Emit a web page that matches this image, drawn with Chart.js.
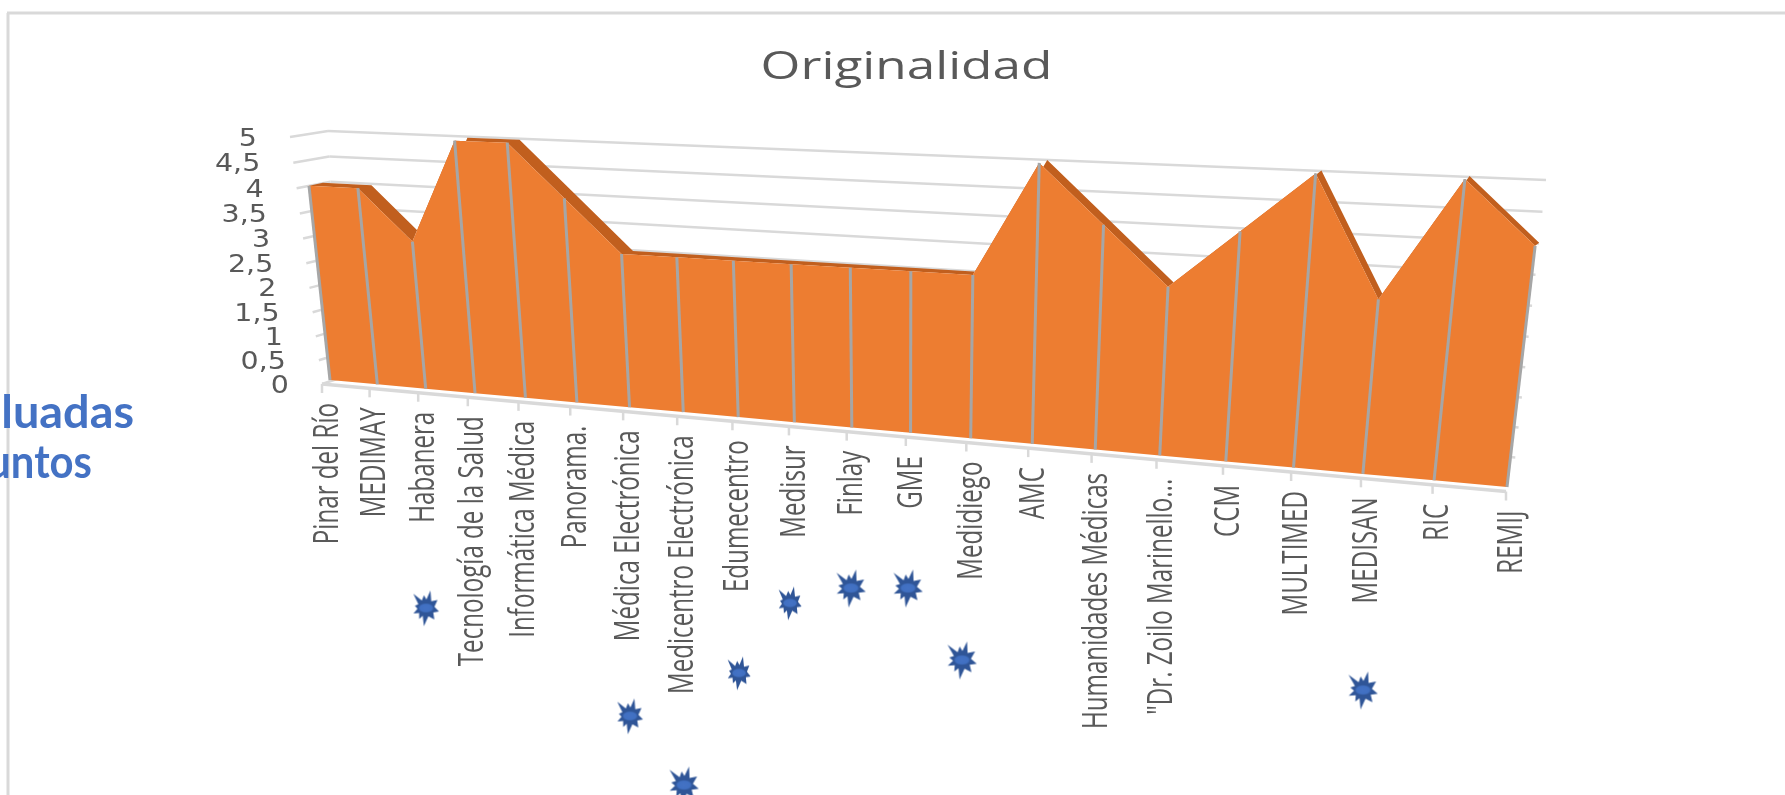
<!DOCTYPE html>
<html lang="es">
<head>
<meta charset="utf-8">
<title>Originalidad</title>
<style>
html,body{margin:0;padding:0;background:#fff;overflow:hidden}
canvas{display:block}
</style>
<script src="https://cdn.jsdelivr.net/npm/chart.js@4"></script>
</head>
<body>
<canvas id="c" width="1785" height="795"></canvas>
<script>
const chartTitle = "Originalidad";
const categories = ["Pinar del Río","MEDIMAY","Habanera","Tecnología de la Salud","Informática Médica","Panorama.","Médica Electrónica","Medicentro Electrónica","Edumecentro","Medisur","Finlay","GME","Medidiego","AMC","Humanidades Médicas","\"Dr. Zoilo Marinello...","CCM","MULTIMED","MEDISAN","RIC","REMIJ"];
const originalidad = [4,4,3,5,5,4,3,3,3,3,3,3,3,5,4,3,4,5,3,5,4];
const baseline = [0,0,0,0,0,0,0,0,0,0,0,0,0,0,0,0,0,0,0,0,0];
const starX = [426,630,684,739,790,851,908,962,1363];
const starY = [608,716,785,673,603,588,588,660,690];
const sideText = ["luadas","untos"];

// perspective planes (value space -> page)
function plane(p0,p1,p2,p3){
  const dx1=p1[0]-p2[0],dy1=p1[1]-p2[1],dx2=p3[0]-p2[0],dy2=p3[1]-p2[1];
  const sx=p0[0]-p1[0]+p2[0]-p3[0],sy=p0[1]-p1[1]+p2[1]-p3[1];
  const den=dx1*dy2-dx2*dy1;
  const g=(sx*dy2-dx2*sy)/den,h=(dx1*sy-sx*dy1)/den;
  const a=p1[0]-p0[0]+g*p1[0],b=p3[0]-p0[0]+h*p3[0];
  const d=p1[1]-p0[1]+g*p1[1],e=p3[1]-p0[1]+h*p3[1];
  return (u,v)=>{const w=g*u+h*v+1;return [(a*u+b*v+p0[0])/w,(d*u+e*v+p0[1])/w];};
}
const front = plane([330,380],[1507,487],[1542.6,182],[303.5,135]);
const back  = plane([344,377],[1511,484],[1546.6,179],[317.5,132]);
const wall  = plane([340,378],[1512,487],[1546,180],[328,131]);
const axisP = plane([322,384],[1506,491.5],[1540,186],[300,139]);

const ORANGE="#ED7D31", DARK="#C15F1E", GRID="#D9D9D9", DROP="#A6A6A6", TEXT="#595959", BLUE="#4472C4";

function uv(chart,x,y){const a=chart.chartArea;return [(x-a.left)/(a.right-a.left),(a.bottom-y)/(a.bottom-a.top)];}

function makeStar(w,h){
  const c=document.createElement('canvas');c.width=w+16;c.height=h+16;
  const g=c.getContext('2d'),cx=c.width/2,cy=c.height/2;
  // burst outline: [degrees clockwise from up, reach]
  const tips=[[-47,1.2],[-11,0.74],[17,1.05],[60,0.92],[103,0.92],[139,0.88],[188,1.06],[217,0.78],[250,0.92],[280,0.78]];
  const k=h/37;
  g.beginPath();
  tips.forEach((t,i)=>{
    const a=(t[0]-90)*Math.PI/180;
    g.lineTo(cx+Math.cos(a)*t[1]*18.5*k*(w/h)*(37/33)*0.89,cy+Math.sin(a)*t[1]*18.5*k);
    const nx=i<tips.length-1?tips[i+1][0]:tips[0][0]+360;
    const m=((t[0]+nx)/2-90)*Math.PI/180;
    g.lineTo(cx+Math.cos(m)*9*k,cy+Math.sin(m)*9*k);
  });
  g.closePath();g.fillStyle="#2F5597";g.fill();
  g.save();g.translate(cx,cy);g.scale(1,0.62);
  const rad=8.5*k;
  const r=g.createRadialGradient(0,0,1,0,0,rad);
  r.addColorStop(0,"#4472C4");r.addColorStop(0.7,"#4070C2");r.addColorStop(1,"rgba(68,114,196,0)");
  g.beginPath();g.arc(0,0,rad,0,Math.PI*2);g.fillStyle=r;g.fill();
  g.restore();
  return c;
}
const starBig=makeStar(33,37), starMid=makeStar(29,35), starSmall=makeStar(26,33);
const starStyles=[starMid,starMid,starBig,starSmall,starSmall,starBig,starBig,starBig,starBig];

function poly(ctx,upper,lower,color){
  ctx.beginPath();
  upper.forEach((p,i)=>i?ctx.lineTo(p.x,p.y):ctx.moveTo(p.x,p.y));
  for(let i=lower.length-1;i>=0;i--)ctx.lineTo(lower[i].x,lower[i].y);
  ctx.closePath();ctx.fillStyle=color;ctx.fill();
}
function seg(ctx,a,b,color,w){ctx.beginPath();ctx.moveTo(a[0],a[1]);ctx.lineTo(b[0],b[1]);ctx.strokeStyle=color;ctx.lineWidth=w;ctx.stroke();}

const perspective={
  id:'perspective',
  afterDatasetsUpdate(chart){
    [[0,front],[1,front],[2,back]].forEach(([i,pl])=>{
      chart.getDatasetMeta(i).data.forEach(el=>{
        const q=uv(chart,el.x,el.y),p=pl(q[0],q[1]);
        el.x=p[0];el.y=p[1];
      });
    });
  },
  beforeDatasetsDraw(chart){
    const ctx=chart.ctx,sx=chart.scales.x,sy=chart.scales.y;
    ctx.save();
    ctx.lineCap='butt';
    // frame
    seg(ctx,[8,795],[8,13],GRID,3);seg(ctx,[7,13],[1785,13],GRID,3);
    // walls + value ticks
    sy.ticks.forEach(t=>{
      const v=t.value/5;
      const a=wall(0,v),b=wall(1,v),f=front(0,v);
      const s=[f[0]-8-5.5*v,f[1]+4-2*v];
      if(t.value>0)seg(ctx,a,b,GRID,2.5);
      seg(ctx,s,a,GRID,2.5);
      const lab=String(t.value).replace('.',',');
      ctx.save();
      ctx.translate(s[0]-33,s[1]+2);ctx.scale(1.14,1);
      ctx.font='25px "DejaVu Sans"';ctx.fillStyle=TEXT;ctx.textAlign='right';ctx.textBaseline='middle';
      ctx.fillText(lab,0,0);
      ctx.restore();
    });
    // category axis
    seg(ctx,axisP(0,0),axisP(1,0),GRID,3.5);
    const labs=sx.getLabels();
    labs.forEach((lab,i)=>{
      const q=uv(chart,sx.getPixelForValue(i),chart.chartArea.bottom);
      const p=axisP(q[0],0);
      seg(ctx,[p[0],p[1]],[p[0],p[1]+9],GRID,2.5);
      ctx.save();
      ctx.translate(p[0]+6,p[1]+19);ctx.rotate(-Math.PI/2);ctx.scale(0.71,1);
      ctx.font='34px "Open Sans"';ctx.fillStyle=TEXT;ctx.textAlign='right';ctx.textBaseline='middle';
      ctx.fillText(lab,0,0);
      ctx.restore();
    });
    // title
    ctx.save();
    ctx.translate(906.5,79);ctx.scale(1.35,1);
    ctx.font='38px "Open Sans"';ctx.fillStyle=TEXT;ctx.textAlign='center';ctx.textBaseline='alphabetic';
    ctx.fillText(chartTitle,0,0);
    ctx.restore();
    // side text
    ctx.save();
    ctx.fillStyle=BLUE;ctx.textAlign='right';ctx.textBaseline='alphabetic';
    ctx.font='bold 45px Lato';
    ctx.save();ctx.translate(134,428);ctx.scale(1.04,1);ctx.fillText(sideText[0],0,0);ctx.restore();
    ctx.save();ctx.translate(92,478);ctx.scale(0.93,1);ctx.fillText(sideText[1],0,0);ctx.restore();
    ctx.restore();
    // top band + front area
    const F=chart.getDatasetMeta(0).data,Z=chart.getDatasetMeta(1).data,B=chart.getDatasetMeta(2).data;
    poly(ctx,B,F,DARK);
    poly(ctx,F,Z,ORANGE);
    ctx.restore();
  },
  afterDatasetsDraw(chart){
    const ctx=chart.ctx,F=chart.getDatasetMeta(0).data,Z=chart.getDatasetMeta(1).data;
    ctx.save();
    F.forEach((p,i)=>seg(ctx,[p.x,p.y],[Z[i].x,Z[i].y],DROP,3));
    ctx.restore();
  }
};

new Chart(document.getElementById('c'),{
  type:'line',
  data:{
    labels:categories,
    datasets:[
      {label:chartTitle,data:originalidad,xAxisID:'x',yAxisID:'y',borderColor:ORANGE,borderWidth:0,pointRadius:0,fill:false,tension:0},
      {label:'base',data:baseline,xAxisID:'x',yAxisID:'y',borderColor:ORANGE,borderWidth:0,pointRadius:0,fill:false,tension:0},
      {label:'profundidad',data:originalidad,xAxisID:'x',yAxisID:'y',borderColor:DARK,borderWidth:0,pointRadius:0,fill:false,tension:0},
      {label:'marcas',type:'scatter',data:starX.map((x,i)=>({x,y:starY[i]})),xAxisID:'px',yAxisID:'py',showLine:false,pointRadius:18,pointStyle:starStyles,order:-1}
    ]
  },
  options:{
    responsive:false,animation:false,events:[],
    layout:{padding:0,autoPadding:false},
    plugins:{legend:{display:false},tooltip:{enabled:false},title:{display:false}},
    scales:{
      x:{type:'category',display:false,offset:false},
      y:{type:'linear',display:false,min:0,max:5,ticks:{stepSize:0.5}},
      px:{type:'linear',axis:'x',display:false,min:0,max:1785},
      py:{type:'linear',axis:'y',display:false,min:0,max:795,reverse:true}
    }
  },
  plugins:[perspective]
});
</script>
</body>
</html>
